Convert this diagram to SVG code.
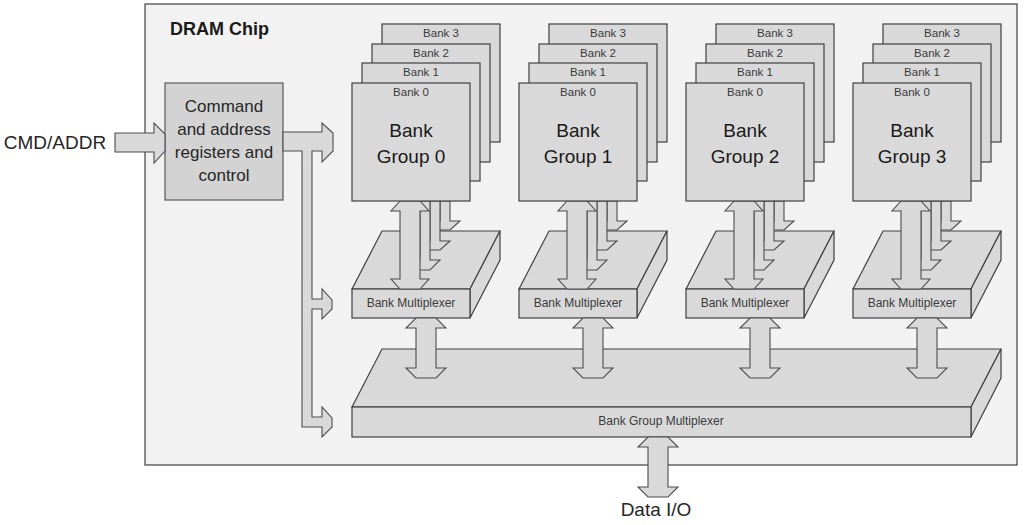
<svg xmlns="http://www.w3.org/2000/svg" width="1024" height="525" viewBox="0 0 1024 525">
<style>
  .chip{fill:#f2f2f2;stroke:#404040;stroke-width:1.2}
  .box{fill:#d9d9d9;stroke:#404040;stroke-width:1.2}
  .cmd{fill:#d3d3d3;stroke:#595959;stroke-width:1.2}
  .arr{fill:#d9d9d9;stroke:#4d4d4d;stroke-width:1.1;stroke-linejoin:miter}
  text{font-family:"Liberation Sans",Arial,sans-serif;text-anchor:middle;fill:#1a1a1a}
  .small{font-size:11.5px;fill:#3a3a3a}
  .mux{font-size:12px;fill:#3a3a3a}
  .big{font-size:19px}
  .cmdt{font-size:17px;fill:#262626}
  .ext{font-size:19px;fill:#262626}
  .title{font-size:18px;font-weight:bold;text-anchor:start}
</style>
<defs>
  <g id="mux-shape">
    <polygon class="box" points="352,289 382,231 500,231 470,289"/>
    <polygon class="box" points="470,289 500,231 500,260 470,318"/>
    <rect class="box" x="352" y="289" width="118" height="29"/>
    <text class="mux" x="411" y="307">Bank Multiplexer</text>
  </g>
  <g id="bank-arrows">
    <polygon class="arr" points="440,201 450,201 450,221 460,221 450,230 440,230 430,221 440,221"/>
    <polygon class="arr" points="430,201 440,201 440,241 450,241 440,250 430,250 420,241 430,241"/>
    <polygon class="arr" points="420,201 430,201 430,260 440,260 430,270 420,270 410,260 420,260"/>
    <polygon class="arr" points="400,201 420,201 429,211 420,211 420,279 429,279 420,289 400,289 391,279 400,279 400,211 391,211"/>
    <polygon class="arr" points="416,318 436,318 446,328 436,328 436,368 446,368 436,378 416,378 406,368 416,368 416,328 406,328"/>
  </g>
  <g id="bank-stack">
    <rect class="box" x="382" y="24" width="118" height="118"/>
    <text class="small" x="441" y="37">Bank 3</text>
    <rect class="box" x="372" y="44" width="118" height="118"/>
    <text class="small" x="431" y="57">Bank 2</text>
    <rect class="box" x="362" y="63" width="118" height="118"/>
    <text class="small" x="421" y="76">Bank 1</text>
    <rect class="box" x="352" y="83" width="118" height="118"/>
    <text class="small" x="411" y="96">Bank 0</text>
    <text class="big" x="411" y="137">Bank</text>
  </g>
</defs>

<g id="chip">
  <rect class="chip" x="145" y="4" width="872" height="461"/>
  <text class="title" x="170" y="35">DRAM Chip</text>
</g>

<g id="cmd-box">
  <rect class="cmd" x="165" y="83" width="118" height="117"/>
  <text class="cmdt" x="224" y="112">Command</text>
  <text class="cmdt" x="224" y="135">and address</text>
  <text class="cmdt" x="224" y="158">registers and</text>
  <text class="cmdt" x="224" y="181">control</text>
</g>

<g id="bank-mux-0"><use href="#mux-shape"/></g>
<g id="bank-mux-1" transform="translate(167,0)"><use href="#mux-shape"/></g>
<g id="bank-mux-2" transform="translate(334,0)"><use href="#mux-shape"/></g>
<g id="bank-mux-3" transform="translate(501,0)"><use href="#mux-shape"/></g>

<g id="bank-group-mux">
  <polygon class="box" points="352,407 382,349 1001,349 971,407"/>
  <polygon class="box" points="971,407 1001,349 1001,378 971,437"/>
  <rect class="box" x="352" y="407" width="619" height="30"/>
  <text class="mux" x="661" y="425">Bank Group Multiplexer</text>
</g>

<g id="connectors">
  <polygon class="arr" points="115,133 154,133 154,123 165,134 165,151 154,163 154,152 115,152"/>
  <path class="arr" d="M283,132 L322,132 L322,123 L333,133 L333,151 L322,162 L322,151 L312,151 L312,299 L322,299 L322,289 L332,300 L332,309 L322,319 L322,309 L312,309 L312,417 L322,417 L322,407 L332,418 L332,427 L322,437 L322,427 L302,427 L302,151 L283,151 Z"/>
  <use href="#bank-arrows"/>
  <use href="#bank-arrows" transform="translate(167,0)"/>
  <use href="#bank-arrows" transform="translate(334,0)"/>
  <use href="#bank-arrows" transform="translate(501,0)"/>
  <polygon class="arr" points="648,437 668,437 678,447 668,447 668,487 678,487 668,497 648,497 638,487 648,487 648,447 638,447"/>
</g>

<g id="bank-group-0">
  <use href="#bank-stack"/>
  <text class="big" x="411" y="163">Group 0</text>
</g>
<g id="bank-group-1" transform="translate(167,0)">
  <use href="#bank-stack"/>
  <text class="big" x="411" y="163">Group 1</text>
</g>
<g id="bank-group-2" transform="translate(334,0)">
  <use href="#bank-stack"/>
  <text class="big" x="411" y="163">Group 2</text>
</g>
<g id="bank-group-3" transform="translate(501,0)">
  <use href="#bank-stack"/>
  <text class="big" x="411" y="163">Group 3</text>
</g>

<text class="ext" x="55" y="149">CMD/ADDR</text>
<text class="ext" x="656" y="516">Data I/O</text>
</svg>
